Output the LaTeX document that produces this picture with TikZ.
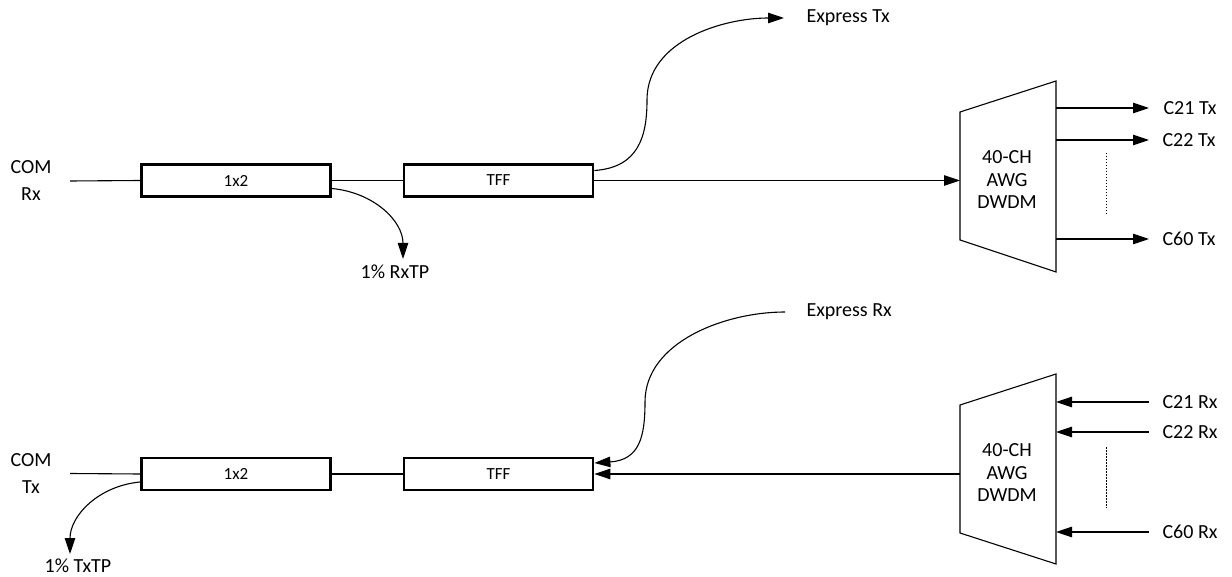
\documentclass[tikz,border=0pt]{standalone}
\usepackage{fontspec}
\setmainfont{Carlito}
\usetikzlibrary{arrows.meta}
\begin{document}
\begin{tikzpicture}[x=1pt,y=-1pt,
  line width=1.1pt,
  box/.style={draw, line width=2.8pt, minimum width=189pt, minimum height=32pt, inner sep=0pt, font=\fontsize{17}{19}\selectfont},
  lbl/.style={font=\fontsize{20}{24}\selectfont, inner sep=0pt},
  two/.style={font=\fontsize{20}{27}\selectfont, align=center, inner sep=0pt},
  mux/.style={font=\fontsize{20}{22.5}\selectfont, align=center, inner sep=0pt},
  tip/.style={-{Triangle[length=16pt,width=10.5pt]}},
  dots/.style={line width=0.9pt, dash pattern=on 1.5pt off 1.5pt},
]
\useasboundingbox (0,0) rectangle (1232,577);

% ---------- top (receive) ----------
\node[box] (s1) at (236,180.5) {1x2};
\node[box] (f1) at (498.5,180.5) {TFF};
\node[two] (com1) at (31,181) {COM\\Rx};
\coordinate (in1) at (70,181);
\draw (in1) -- (s1.west);
\draw (s1.east) -- (f1.west);
\coordinate (tp1) at (403,259);
\draw[tip] ([shift={(0,8)}]s1.east) .. controls +(42,4) and +(0,-38) .. (tp1);
\node[lbl] (tp1l) at (395,272) {1\% RxTP};

\coordinate (ex1m) at (647,100);
\coordinate (ex1) at (784,18);
\draw[tip] ([shift={(0,-10)}]f1.east) .. controls +(45,-3) and +(0,35) .. (ex1m)
  .. controls +(0,-60) and +(-60,0) .. (ex1);
\node[lbl, anchor=west] (ex1l) at (806,18) {Express Tx};

\coordinate (a1) at (960,112);
\coordinate (b1) at (1056,81);
\coordinate (c1) at (1056,272);
\coordinate (d1) at (960,240);
\draw (a1) -- (b1) -- (c1) -- (d1) -- cycle;
\node[mux] (m1) at (1007,180) {40-CH\\AWG\\DWDM};
\coordinate (m1in) at (960,180.5);
\draw[tip] (f1.east) -- (m1in);

\coordinate (o1a) at (1056,108);
\coordinate (o1b) at (1056,140);
\coordinate (o1c) at (1056,239);
\coordinate (e1a) at (1149,108);
\coordinate (e1b) at (1149,140);
\coordinate (e1c) at (1149,239);
\draw[tip] (o1a) -- (e1a);
\draw[tip] (o1b) -- (e1b);
\draw[tip] (o1c) -- (e1c);
\node[lbl, anchor=west] (l1a) at (1163,108) {C21 Tx};
\node[lbl, anchor=west] (l1b) at (1162,140) {C22 Tx};
\node[lbl, anchor=west] (l1c) at (1162,239) {C60 Tx};
\coordinate (dt1a) at (1106,153);
\coordinate (dt1b) at (1106,215);
\draw[dots] (dt1a) -- (dt1b);

% ---------- bottom (transmit) ----------
\node[box] (s2) at (236,474) {1x2};
\node[box] (f2) at (498.5,474) {TFF};
\node[two] (com2) at (31,474) {COM\\Tx};
\coordinate (in2) at (70,473.5);
\draw (in2) -- (s2.west);
\draw (s2.east) -- (f2.west);
\coordinate (tp2) at (70,554);
\draw[tip] ([shift={(0,8)}]s2.west) .. controls +(-42,4) and +(0,-38) .. (tp2);
\node[lbl] (tp2l) at (78,566) {1\% TxTP};

\coordinate (ex2) at (785,312);
\coordinate (ex2m) at (645,402);
\draw[tip] (ex2) .. controls +(-60,0) and +(0,-60) .. (ex2m)
  .. controls +(0,35) and +(45,-3) .. ([shift={(0,-11)}]f2.east);
\node[lbl, anchor=west] (ex2l) at (806,312) {Express Rx};

\coordinate (a2) at (960,405);
\coordinate (b2) at (1056,374);
\coordinate (c2) at (1056,564);
\coordinate (d2) at (960,533);
\draw (a2) -- (b2) -- (c2) -- (d2) -- cycle;
\node[mux] (m2) at (1007,473) {40-CH\\AWG\\DWDM};
\coordinate (m2out) at (960,474);
\draw[tip] (m2out) -- (f2.east);

\coordinate (o2a) at (1056,402);
\coordinate (o2b) at (1056,432);
\coordinate (o2c) at (1056,532);
\coordinate (e2a) at (1149,402);
\coordinate (e2b) at (1149,432);
\coordinate (e2c) at (1149,532);
\draw[tip] (e2a) -- (o2a);
\draw[tip] (e2b) -- (o2b);
\draw[tip] (e2c) -- (o2c);
\node[lbl, anchor=west] (l2a) at (1162,402) {C21 Rx};
\node[lbl, anchor=west] (l2b) at (1162,432) {C22 Rx};
\node[lbl, anchor=west] (l2c) at (1162,532) {C60 Rx};
\coordinate (dt2a) at (1106,447);
\coordinate (dt2b) at (1106,508);
\draw[dots] (dt2a) -- (dt2b);
\end{tikzpicture}
\end{document}
